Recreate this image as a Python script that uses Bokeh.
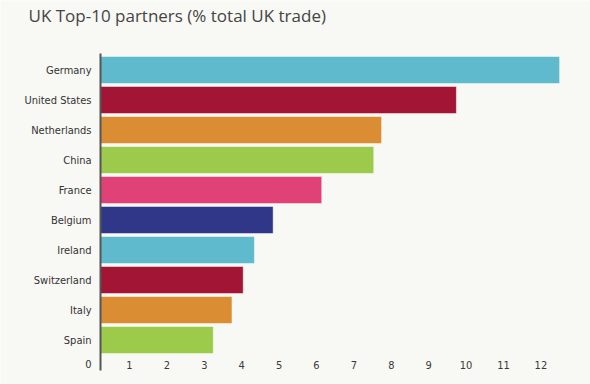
from bokeh.plotting import figure
from bokeh.models import Range1d, FixedTicker, ColumnDataSource, LinearAxis, Label
from bokeh.embed import file_html
from bokeh.resources import INLINE

countries = ["Germany", "United States", "Netherlands", "China", "France",
             "Belgium", "Ireland", "Switzerland", "Italy", "Spain"]
values = [12.50, 9.74, 7.74, 7.53, 6.14, 4.84, 4.34, 4.04, 3.74, 3.24]
colors = ["#5fbacd", "#a31535", "#db8d33", "#9ccb4b", "#e04277",
          "#303688", "#5fbacd", "#a31535", "#db8d33", "#9ccb4b"]
x_ticks = list(range(1, 13))
title_text = "UK Top-10 partners (% total UK trade)"

BG = "#f8f8f4"
W, H = 590, 384
n = len(countries)
ypos = [n - 1 - i for i in range(n)]  # Germany on top
zero_row = -0.817      # row of the value-axis labels
AXIS_X = 0.2246        # where the category axis line sits (bars grow from it)
AXIS_BOUNDS = (-1.017, 9.55)

src = ColumnDataSource(dict(y=ypos, right=values, color=colors, name=countries))

p = figure(width=W, height=H, output_backend="svg", toolbar_location=None,
           x_range=Range1d(-2.449, 13.326), y_range=Range1d(-1.483, 11.317),
           min_border=0, min_border_left=0, min_border_right=0,
           min_border_bottom=0, min_border_top=0,
           x_axis_location=None, y_axis_location=None)
p.background_fill_color = BG
p.border_fill_color = BG
p.outline_line_color = None
p.grid.visible = False

p.hbar(y="y", left=AXIS_X, right="right", height=0.9, fill_color="color",
       line_color="white", line_alpha=0.45, line_width=1, source=src)

yax = LinearAxis(ticker=FixedTicker(ticks=[zero_row] + ypos),
                 fixed_location=AXIS_X, bounds=AXIS_BOUNDS)
overrides = {float(y): c for y, c in zip(ypos, countries)}
overrides[zero_row] = "0"
yax.major_label_overrides = overrides
yax.axis_line_color = "#555555"
yax.axis_line_width = 2
yax.major_tick_line_color = None
yax.minor_tick_line_color = None
yax.major_tick_out = 0
yax.major_label_standoff = 9
yax.major_label_text_font = "DejaVu Sans Condensed"
yax.major_label_text_font_size = "11px"
yax.major_label_text_color = "#333333"
p.add_layout(yax, "left")

xax = LinearAxis(ticker=FixedTicker(ticks=x_ticks), fixed_location=zero_row + 0.133)
xax.axis_line_color = None
xax.major_tick_line_color = None
xax.minor_tick_line_color = None
xax.major_tick_out = 0
xax.major_label_standoff = 0
xax.major_label_text_baseline = "middle"
xax.major_label_text_font = "DejaVu Sans Condensed"
xax.major_label_text_font_size = "11px"
xax.major_label_text_color = "#3a3a3a"
p.add_layout(xax, "below")

title = Label(x=28, y=H - 15, x_units="screen", y_units="screen", text=title_text,
              text_font="Open Sans", text_font_size="17px", text_color="#444444",
              text_baseline="middle", text_align="left")
p.add_layout(title)

html = file_html(p, INLINE)
html = html.replace("<body>", '<body style="background:%s">' % BG, 1)
open("out.html", "w").write(html)
